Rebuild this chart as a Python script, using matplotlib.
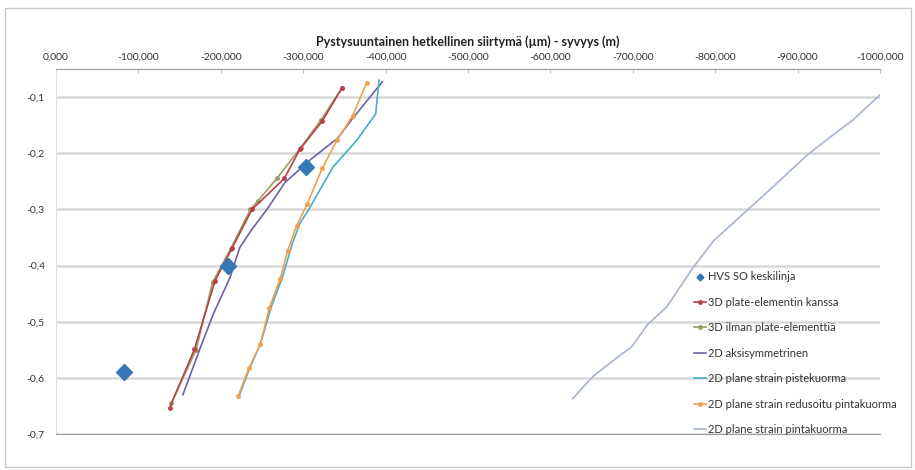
import matplotlib

matplotlib.use("Agg")
import matplotlib.pyplot as plt
from matplotlib import font_manager
from matplotlib.patches import Rectangle
from matplotlib.ticker import FuncFormatter, MultipleLocator

# depth profiles: vertical displacement (µm, negative = down) vs depth (m)
hvs_x = [-303, -209, -83]
hvs_y = [-0.225, -0.40, -0.59]

plate3d_x = [-347, -323, -296, -277, -238, -214, -193, -168, -138]
plate3d_y = [-0.084, -0.143, -0.193, -0.245, -0.300, -0.368, -0.427, -0.549, -0.653]

noplate3d_x = [-347, -322, -297, -268, -245, -236, -212, -190, -170, -140]
noplate3d_y = [-0.084, -0.140, -0.190, -0.245, -0.285, -0.300, -0.370, -0.430, -0.550, -0.645]

axisym_x = [-396, -360, -342, -310, -278, -256, -238, -223, -211, -191, -175, -154]
axisym_y = [-0.073, -0.138, -0.173, -0.210, -0.252, -0.300, -0.335, -0.368, -0.422, -0.486,
            -0.547, -0.630]

point_x = [-392, -390, -388, -365, -336, -320, -308, -296, -287, -275, -261, -248, -235, -222]
point_y = [-0.070, -0.100, -0.130, -0.177, -0.225, -0.266, -0.297, -0.325, -0.360, -0.420,
           -0.475, -0.540, -0.583, -0.633]

reduced_x = [-377, -360, -341, -323, -305, -292, -281, -272, -259, -248, -234, -221]
reduced_y = [-0.075, -0.133, -0.177, -0.227, -0.290, -0.329, -0.374, -0.424, -0.475, -0.540,
             -0.583, -0.633]

surface_x = [-1000, -967, -939, -911, -870, -834, -798, -773, -741, -718, -699, -672, -652, -627]
surface_y = [-0.096, -0.141, -0.172, -0.204, -0.260, -0.308, -0.356, -0.404, -0.474, -0.505,
             -0.544, -0.574, -0.597, -0.637]

labels = ["HVS SO keskilinja", "3D plate-elementin kanssa", "3D ilman plate-elementtiä",
          "2D aksisymmetrinen", "2D plane strain pistekuorma",
          "2D plane strain redusoitu pintakuorma", "2D plane strain pintakuorma"]

available = {f.name for f in font_manager.fontManager.ttflist}
for fam in ["Liberation Sans Narrow", "Lato", "Open Sans", "DejaVu Sans"]:
    if fam in available:
        plt.rcParams["font.family"] = fam
        break

W, H = 915, 470
fig = plt.figure(figsize=(W / 100, H / 100), dpi=100)
fig.patch.set_facecolor("white")
fig.patches.append(Rectangle((5 / W, 3 / H), 906 / W, 459 / H, transform=fig.transFigure,
                             fill=False, ec="#c8c8c8", lw=1.0))

ax = fig.add_axes([56 / W, 36 / H, 824 / W, 365 / H])
ax.plot(hvs_x, hvs_y, "D", color="#3478b8", ms=8, ls="none", label=labels[0], zorder=5)
ax.plot(plate3d_x, plate3d_y, "-o", color="#b8404a", ms=2.5, lw=1.2, label=labels[1], zorder=4)
ax.plot(noplate3d_x, noplate3d_y, "-o", color="#9aa060", ms=2.5, lw=1.2, label=labels[2], zorder=3)
ax.plot(axisym_x, axisym_y, "-", color="#7060a8", lw=1.2, label=labels[3], zorder=3)
ax.plot(point_x, point_y, "-", color="#48aec4", lw=1.2, label=labels[4], zorder=3)
ax.plot(reduced_x, reduced_y, "-o", color="#f0a050", ms=2.5, lw=1.2, label=labels[5], zorder=4)
ax.plot(surface_x, surface_y, "-", color="#a8b4cc", lw=1.2, label=labels[6], zorder=3)

ax.set_xlim(0, -1000)
ax.set_ylim(-0.7, -0.05)
ax.xaxis.set_major_locator(MultipleLocator(100))
ax.yaxis.set_major_locator(MultipleLocator(0.1))
ax.xaxis.set_major_formatter(FuncFormatter(lambda v, p: f"{v:.3f}".replace(".", ",").replace("-0,000", "0,000")))
ax.yaxis.set_major_formatter(FuncFormatter(lambda v, p: f"{v:.1f}".replace(".", ",")))
ax.xaxis.tick_top()
ax.tick_params(axis="x", direction="in", length=3, color="#c0c0c0", labelsize=7.5,
               labelcolor="#333333", pad=5)
ax.tick_params(axis="y", length=0, labelsize=7.5, labelcolor="#333333", pad=8)
ax.grid(axis="y", color="#d9d9d9", lw=1.8)
ax.set_axisbelow(True)
ax.spines["right"].set_visible(False)
ax.spines["top"].set_color("#a0a0a0")
ax.spines["bottom"].set_color("#a0a0a0")
ax.spines["left"].set_color("#e0e0e0")
ax.set_title("Pystysuuntainen hetkellinen siirtymä (µm) - syvyys (m)", fontsize=9,
             fontweight="bold", color="#222222", pad=17)

leg = fig.legend(loc="upper left", bbox_to_anchor=(690 / W, 1 - 267 / H), frameon=False,
                 fontsize=8, labelspacing=1.3, handlelength=1.0, handletextpad=0.2,
                 labelcolor="#333333", borderaxespad=0)
leg.legend_handles[0].set_markersize(3.5)

fig.savefig("out.png", dpi=100, facecolor="white")
